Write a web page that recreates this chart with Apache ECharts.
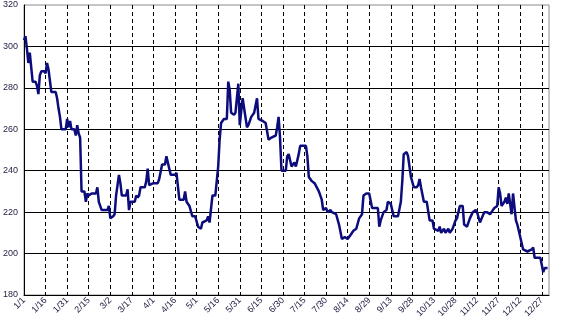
<!DOCTYPE html>
<html lang="en">
<head>
    <meta charset="UTF-8">
    <title>daily line</title>
    <script type="text/javascript" src="https://cdn.jsdelivr.net/npm/echarts@6/dist/echarts.min.js"></script>
    <style>
        html, body { margin: 0; padding: 0; background: #fff; }
    </style>
</head>
<body>
<div id="main" style="width: 575px;height: 327px;"></div>

<script type="text/javascript">

    // day of year (0 = 1/1) and value
    var days = [0, 1, 2, 3, 4, 5, 6, 8, 9, 10, 11, 12, 14, 15, 16, 17, 19, 22, 23, 24,
        25, 26, 29, 30, 31, 32, 33, 35, 36, 37, 38, 39, 40, 42, 43, 44, 45, 47, 50, 51,
        52, 54, 58, 59, 60, 62, 63, 64, 66, 67, 68, 71, 72, 73, 74, 77, 78, 79, 80, 81,
        84, 85, 86, 87, 90, 93, 94, 96, 98, 99, 100, 102, 105, 106, 108, 111, 112, 113, 115, 117,
        119, 121, 123, 124, 127, 128, 129, 131, 133, 134, 135, 136, 137, 139, 141, 142, 143, 144, 146, 147,
        149, 150, 152, 153, 155, 156, 158, 160, 162, 163, 166, 168, 170, 172, 175, 176, 177, 178, 179, 182,
        183, 184, 186, 188, 189, 191, 192, 196, 197, 198, 200, 202, 205, 207, 208, 210, 211, 213, 214, 217,
        219, 221, 223, 225, 227, 229, 231, 233, 235, 236, 238, 240, 242, 246, 247, 248, 250, 252, 253, 255,
        257, 260, 262, 263, 264, 266, 267, 269, 271, 273, 274, 275, 276, 278, 280, 282, 284, 285, 288, 289,
        290, 292, 293, 295, 296, 298, 300, 301, 303, 305, 306, 308, 310, 312, 314, 315, 317, 318, 320, 322,
        324, 325, 327, 329, 330, 331, 332, 334, 335, 336, 337, 338, 339, 340, 341, 342, 343, 345, 347, 350,
        353, 354, 355, 359, 361, 362, 364];
    var values = [303, 305, 299, 292, 297, 290, 283, 283, 281, 277, 286, 288, 288, 287, 292, 289, 278, 278, 275, 270,
        266, 260, 260, 265, 261, 264, 260, 260, 257, 262, 258, 256, 230, 230, 225, 229, 228, 229, 229, 232,
        225, 221, 221, 223, 217, 218, 219, 228, 238, 234, 228, 228, 231, 221, 225, 225, 228, 227, 228, 232,
        232, 235, 241, 233, 234, 234, 236, 243, 243, 247, 244, 238, 238, 239, 226, 226, 230, 225, 223, 218,
        218, 213, 212, 215, 216, 218, 215, 228, 228, 235, 242, 255, 263, 265, 265, 283, 279, 268, 267, 268,
        282, 262, 275, 275, 261, 262, 266, 268, 275, 265, 264, 263, 255, 256, 257, 261, 266, 256, 240, 240,
        247, 248, 242, 244, 242, 248, 252, 252, 247, 237, 235, 234, 230, 226, 221, 222, 220, 221, 220, 219,
        214, 207, 208, 207, 209, 211, 212, 217, 219, 228, 229, 229, 222, 222, 213, 216, 220, 221, 225, 224,
        218, 218, 225, 235, 248, 249, 247, 237, 232, 232, 233, 236, 232, 225, 225, 216, 216, 212, 211, 213,
        210, 212, 210, 212, 210, 212, 216, 217, 223, 223, 214, 213, 217, 220, 221, 220, 215, 215, 220, 220,
        219, 220, 222, 223, 232, 229, 223, 225, 227, 224, 229, 229, 219, 229, 229, 216, 214, 208, 202, 201,
        202, 203, 198, 198, 191, 193, 193];

    // one label every 15 days
    var tickLabels = ['1/1', '1/16', '1/31', '2/15', '3/2', '3/17', '4/1', '4/16', '5/1', '5/16',
        '5/31', '6/15', '6/30', '7/15', '7/30', '8/14', '8/29', '9/13', '9/28', '10/13',
        '10/28', '11/12', '11/27', '12/12', '12/27'];

    var points = [];
    for (var i = 0; i < days.length; i++) {
        points.push([days[i], values[i]]);
    }

    var chart = echarts.init(document.getElementById('main'));

    var option = {
        animation: false,
        grid: {
            left: 22,
            right: 26,
            top: 5,
            bottom: 32,
            show: true,
            borderColor: '#8c8c8c',
            borderWidth: 1
        },
        xAxis: {
            type: 'value',
            min: 0,
            max: 365,
            interval: 15,
            axisLine: { show: true, lineStyle: { color: '#000', width: 1 } },
            axisTick: { show: false },
            axisLabel: {
                rotate: 45,
                margin: 4,
                fontSize: 9,
                fontFamily: 'Liberation Sans',
                color: '#1c1c40',
                showMaxLabel: false,
                formatter: function (v) {
                    if (v % 15 !== 0) return '';
                    return tickLabels[v / 15] || '';
                }
            },
            splitLine: {
                show: true,
                showMinLine: false,
                showMaxLine: false,
                lineStyle: { color: '#000', width: 1, type: [4, 3] }
            }
        },
        yAxis: {
            type: 'value',
            min: 180,
            max: 320,
            interval: 20,
            axisLine: { show: true, lineStyle: { color: '#000', width: 1 } },
            axisTick: { show: false },
            axisLabel: {
                margin: 6,
                fontSize: 9,
                fontFamily: 'Liberation Sans',
                color: '#1c1c40'
            },
            splitLine: {
                show: true,
                showMinLine: false,
                showMaxLine: false,
                lineStyle: { color: '#000', width: 1 }
            }
        },
        series: [
            {
                type: 'line',
                data: points,
                showSymbol: false,
                lineStyle: { color: '#0c0c7c', width: 2.5 },
                itemStyle: { color: '#0c0c7c' }
            }
        ]
    };

    chart.setOption(option);
</script>
</body>
</html>
